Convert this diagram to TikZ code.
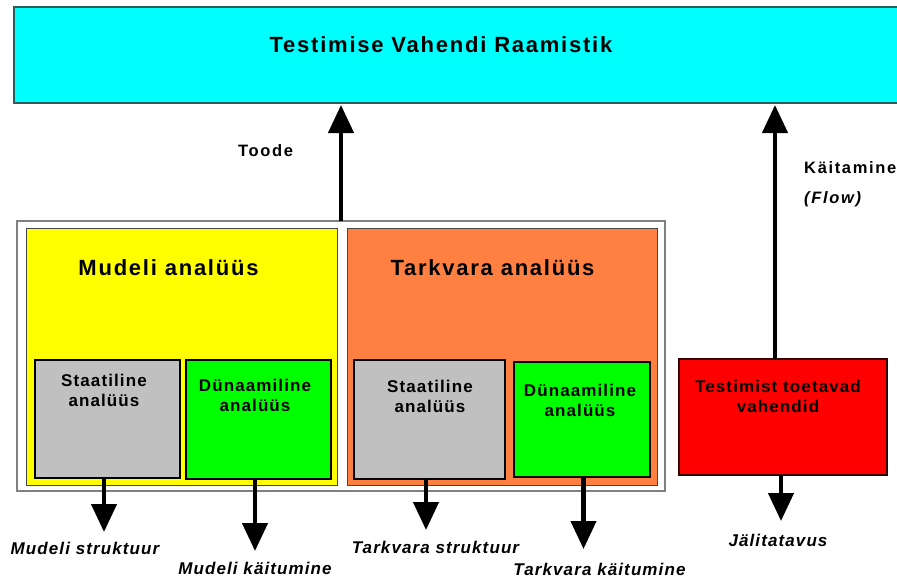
\documentclass[tikz,border=0pt]{standalone}
\usepackage{fontspec}
\setmainfont{Liberation Sans}
% loosely tracked faces for the large, the boxed and the side labels
\newfontfamily\headfont{Liberation Sans}[LetterSpace=8]
\newfontfamily\boxfont{Liberation Sans}[LetterSpace=6.5]
\newfontfamily\sidefont{Liberation Sans}[LetterSpace=10]
\usetikzlibrary{arrows.meta}

\definecolor{frameworkcyan}{RGB}{0,255,255}
\definecolor{frameworkedge}{RGB}{46,92,92}
\definecolor{groupedge}{RGB}{128,128,128}
\definecolor{paneledge}{RGB}{70,70,70}
\definecolor{modelyellow}{RGB}{255,255,0}
\definecolor{softorange}{RGB}{255,128,64}
\definecolor{staticgray}{RGB}{192,192,192}
\definecolor{dyngreen}{RGB}{0,255,0}
\definecolor{toolred}{RGB}{255,0,0}
\definecolor{tooledge}{RGB}{50,0,0}

\begin{document}
\begin{tikzpicture}[x=1pt,y=-1pt,
  panel/.style={draw, rectangle, inner sep=0pt, outer sep=0pt, anchor=north west},
  subpanel/.style={panel, draw=black, line width=1.2pt},
  flow/.style={line width=4.3pt, -{Triangle[width=25pt,length=28pt]}},
  headtext/.style={font=\headfont\bfseries\fontsize{22}{26}\selectfont, inner sep=0pt, anchor=base},
  subtext/.style={font=\boxfont\bfseries\fontsize{17}{20.3}\selectfont, inner sep=0pt, anchor=north, align=center},
  sidetext/.style={font=\sidefont\bfseries\fontsize{16.5}{20}\selectfont, inner sep=0pt},
  outtext/.style={font=\boxfont\bfseries\itshape\fontsize{17}{20}\selectfont, inner sep=0pt, anchor=base},
]
\path[use as bounding box, clip] (0,0) rectangle (897,581);
\fill[white] (0,0) rectangle (897,581);

% framework bar across the top
\node[panel, fill=frameworkcyan, draw=frameworkedge, line width=2pt,
      minimum width=890pt, minimum height=96pt] (frame) at (14,7) {};
\node[headtext] (frametitle) at (441,52.5) {Testimise Vahendi Raamistik};

% analysis group
\node[panel, fill=white, draw=groupedge, line width=1.5pt,
      minimum width=648pt, minimum height=270pt] (analysis) at (17,221) {};
\node[panel, fill=modelyellow, draw=paneledge, line width=1pt,
      minimum width=311pt, minimum height=257pt] (model) at (26,228) {};
\node[panel, fill=softorange, draw=paneledge, line width=1pt,
      minimum width=310pt, minimum height=257pt] (software) at (347,228) {};
\node[headtext] (modeltitle) at (168.5,275) {Mudeli analüüs};
\node[headtext] (softwaretitle) at (492.5,275) {Tarkvara analüüs};

\node[subpanel, fill=staticgray, minimum width=145pt, minimum height=118pt] (mstatic) at (35,360) {};
\node[subpanel, fill=dyngreen, minimum width=145pt, minimum height=119pt] (mdynamic) at (186,360) {};
\node[subpanel, fill=staticgray, minimum width=151pt, minimum height=119pt] (sstatic) at (354,360) {};
\node[subpanel, fill=dyngreen, minimum width=136pt, minimum height=115pt] (sdynamic) at (514,362) {};

\node[subtext] (mstatictext) at (104,373.5) {Staatiline\\analüüs};
\node[subtext] (mdynamictext) at (255,378.5) {Dünaamiline\\analüüs};
\node[subtext] (sstatictext) at (430,380) {Staatiline\\analüüs};
\node[subtext] (sdynamictext) at (580,383.5) {Dünaamiline\\analüüs};

% supporting tools
\node[panel, fill=toolred, draw=tooledge, line width=1.2pt,
      minimum width=208pt, minimum height=116pt] (tools) at (679,359) {};
\node[subtext] (toolstext) at (778,379.5) {Testimist toetavad\\vahendid};

% upward flows into the framework
\draw[flow, shorten >=2pt] (analysis.north) -- (analysis.north |- frame.south);
\coordinate (flowx) at (775,0);
\draw[flow, shorten >=2pt] (flowx |- tools.north) -- (flowx |- frame.south);
\node[sidetext, anchor=base] (product) at (265.5,156.7) {Toode};
\node[sidetext, anchor=base west] (operation) at (804,173.3) {Käitamine};
\node[sidetext, anchor=base west, font=\sidefont\bfseries\itshape\fontsize{16.5}{20}\selectfont] (flowword) at (804,203.5) {(Flow)};

% downward outputs
\coordinate (t1) at (104,532);
\coordinate (t2) at (255,551);
\coordinate (t3) at (426,530);
\coordinate (t4) at (583.5,549);
\coordinate (t5) at (781,521);
\draw[flow] (t1 |- mstatic.south) -- (t1);
\draw[flow] (t2 |- mdynamic.south) -- (t2);
\draw[flow] (t3 |- sstatic.south) -- (t3);
\draw[flow] (t4 |- sdynamic.south) -- (t4);
\draw[flow] (t5 |- tools.south) -- (t5);

\node[outtext] (mstruct) at (85,554) {Mudeli struktuur};
\node[outtext] (mbehav) at (255,574) {Mudeli käitumine};
\node[outtext] (sstruct) at (435.5,553) {Tarkvara struktuur};
\node[outtext] (sbehav) at (599.5,575.5) {Tarkvara käitumine};
\node[outtext] (trace) at (778,546) {Jälitatavus};
\end{tikzpicture}
\end{document}
